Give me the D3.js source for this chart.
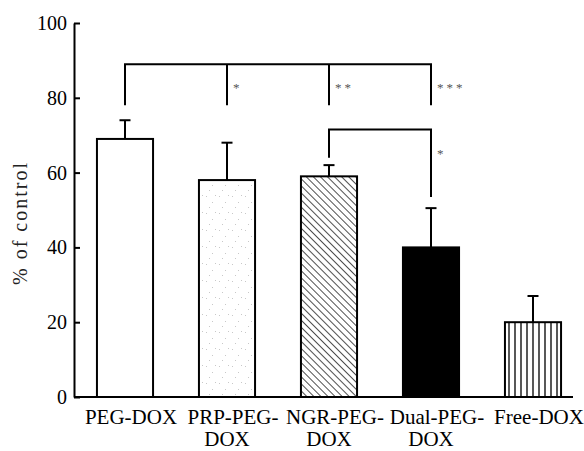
<!DOCTYPE html>
<html>
<head>
<meta charset="utf-8">
<script src="https://cdn.jsdelivr.net/npm/d3@7"></script>
<style>
  body { margin: 0; background: #fff; }
</style>
</head>
<body>
<div id="chart"></div>
<script>
// data
var groups = ["PEG-DOX", "PRP-PEG-DOX", "NGR-PEG-DOX", "Dual-PEG-DOX", "Free-DOX"];
var line1 = ["PEG-DOX", "PRP-PEG-", "NGR-PEG-", "Dual-PEG-", "Free-DOX"];
var line2 = ["", "DOX", "DOX", "DOX", ""];
var means = [69, 58, 59, 40, 20];
var sds = [5, 10, 3, 10.5, 7];
var fills = ["white", "url(#speckle)", "url(#diag)", "black", "url(#vert)"];
var yTicks = [0, 20, 40, 60, 80, 100];

// significance brackets: from group, to group, level, left end, right end, stars
var brackets = [
  { from: 0, to: 3, level: 89, ends: [78, 78], drops: [1, 2], stars: ["*", "**", "***"] },
  { from: 2, to: 3, level: 71.5, ends: [64, 53.5], drops: [], stars: ["*"] }
];

var serif = "Liberation Serif";

var W = 584, H = 451;
var margin = {top: 23, right: 0, bottom: 54, left: 74},
    width = W - margin.left - margin.right,
    height = H - margin.top - margin.bottom;

var svg = d3.select("#chart").append("svg")
    .attr("width", W)
    .attr("height", H);

// fill patterns
var defs = svg.append("defs");
var sp = defs.append("pattern").attr("id", "speckle")
  .attr("patternUnits", "userSpaceOnUse").attr("width", 13).attr("height", 17);
sp.append("rect").attr("width", 13).attr("height", 17).attr("fill", "white");
[[2, 3], [8, 9], [5, 14], [11, 2]].forEach(function(p) {
  sp.append("rect").attr("x", p[0]).attr("y", p[1]).attr("width", 1).attr("height", 1).attr("fill", "#c8c8c8");
});

// hatching "\\\\" for NGR bar
var dg = defs.append("pattern").attr("id", "diag")
  .attr("patternUnits", "userSpaceOnUse").attr("width", 5).attr("height", 5)
  .attr("patternTransform", "rotate(-45)");
dg.append("rect").attr("width", 5).attr("height", 5).attr("fill", "white");
dg.append("line").attr("x1", 0).attr("y1", 0).attr("x2", 0).attr("y2", 5)
  .attr("stroke", "#222").attr("stroke-width", 1.6);

var vt = defs.append("pattern").attr("id", "vert")
  .attr("patternUnits", "userSpaceOnUse").attr("width", 6).attr("height", 10);
vt.append("rect").attr("width", 6).attr("height", 10).attr("fill", "white");
vt.append("line").attr("x1", 3).attr("y1", 0).attr("x2", 3).attr("y2", 10)
  .attr("stroke", "#111").attr("stroke-width", 1.4);

var g = svg.append("g")
  .attr("transform", "translate(" + margin.left + "," + margin.top + ")");

var x = d3.scaleBand()
  .domain(groups)
  .range([0, width])
  .paddingInner(0.45)
  .paddingOuter(0.225);

var y = d3.scaleLinear()
  .domain([0, 100])
  .range([height, 0]);

// Y axis, ticks point inward
var yAxis = g.append("g")
  .call(d3.axisLeft(y).tickValues(yTicks).tickSize(-6).tickPadding(7).tickSizeOuter(0));
yAxis.select(".domain").attr("stroke", "black").attr("stroke-width", 2);
yAxis.selectAll(".tick line").attr("stroke", "black").attr("stroke-width", 2);
yAxis.selectAll(".tick text")
  .attr("fill", "black")
  .style("font-family", serif)
  .style("font-size", "20px");

// baseline
g.append("line")
  .attr("x1", 0).attr("x2", width - 11)
  .attr("y1", y(0)).attr("y2", y(0))
  .attr("stroke", "black").attr("stroke-width", 2);

// error bars
var cx = function(i) { return x(groups[i]) + x.bandwidth() / 2; };
groups.forEach(function(d, i) {
  g.append("line")
    .attr("x1", cx(i)).attr("x2", cx(i))
    .attr("y1", y(means[i])).attr("y2", y(means[i] + sds[i]))
    .attr("stroke", "black").attr("stroke-width", 2);
  g.append("line")
    .attr("x1", cx(i) - 5.5).attr("x2", cx(i) + 5.5)
    .attr("y1", y(means[i] + sds[i])).attr("y2", y(means[i] + sds[i]))
    .attr("stroke", "black").attr("stroke-width", 2);
});

// Bars
g.selectAll(".bar")
  .data(groups)
  .enter()
  .append("rect")
    .attr("class", "bar")
    .attr("x", function(d) { return x(d); })
    .attr("y", function(d, i) { return y(means[i]); })
    .attr("width", x.bandwidth())
    .attr("height", function(d, i) { return y(0) - y(means[i]); })
    .attr("fill", function(d, i) { return fills[i]; })
    .attr("stroke", "black")
    .attr("stroke-width", 2);

// significance brackets
brackets.forEach(function(b) {
  var xl = cx(b.from), xr = cx(b.to), yl = y(b.level);
  g.append("path")
    .attr("d", "M" + xl + "," + y(b.ends[0]) + "V" + yl + "H" + xr + "V" + y(b.ends[1]))
    .attr("fill", "none").attr("stroke", "black").attr("stroke-width", 2);
  b.drops.forEach(function(k) {
    g.append("line")
      .attr("x1", cx(k)).attr("x2", cx(k))
      .attr("y1", yl).attr("y2", y(b.ends[0]))
      .attr("stroke", "black").attr("stroke-width", 2);
  });
  var starX = b.drops.concat([b.to]);
  b.stars.forEach(function(s, j) {
    g.append("text")
      .attr("x", cx(starX[j]) + 6)
      .attr("y", yl + 28)
      .attr("fill", "#555")
      .style("font-family", serif)
      .style("font-size", "13px")
      .style("letter-spacing", "3px")
      .text(s);
  });
});

// X labels, two lines
g.selectAll(".xl1")
  .data(line1)
  .enter()
  .append("text")
    .attr("x", function(d, i) { return cx(i) + 6; })
    .attr("y", y(0) + 27)
    .attr("text-anchor", "middle")
    .style("font-family", serif)
    .style("font-size", "21px")
    .text(function(d) { return d; });

g.selectAll(".xl2")
  .data(line2)
  .enter()
  .append("text")
    .attr("x", function(d, i) { return cx(i); })
    .attr("y", y(0) + 49)
    .attr("text-anchor", "middle")
    .style("font-family", serif)
    .style("font-size", "21px")
    .text(function(d) { return d; });

// Y label
svg.append("text")
  .attr("transform", "rotate(-90)")
  .attr("x", -223)
  .attr("y", 27)
  .attr("text-anchor", "middle")
  .attr("fill", "#222")
  .style("font-family", serif)
  .style("font-size", "20px")
  .style("letter-spacing", "2px")
  .text("% of control");
</script>
</body>
</html>
